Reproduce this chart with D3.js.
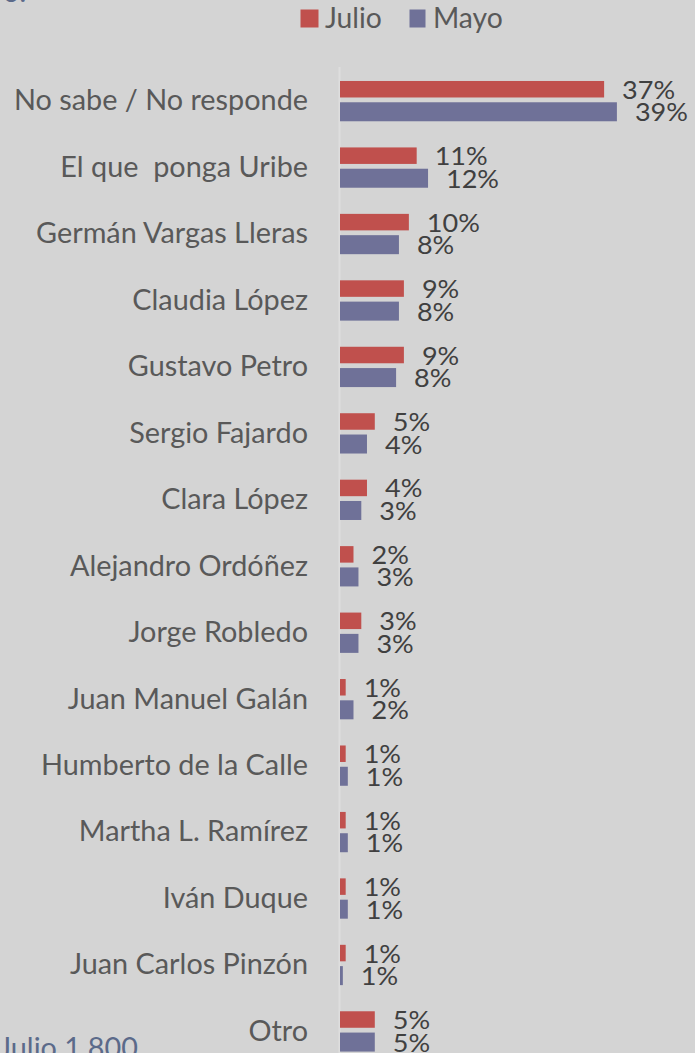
<!DOCTYPE html>
<html>
<head>
<meta charset="utf-8">
<script src="https://cdn.jsdelivr.net/npm/d3@7"></script>
<style>
  html, body { margin: 0; padding: 0; background: #d4d4d4; }
  svg { display: block; }
  text { font-family: Lato, "Open Sans", sans-serif; }
</style>
</head>
<body>
<svg id="chart" width="695" height="1053"></svg>
<script>
const categories = [
  "No sabe / No responde", "El que  ponga Uribe", "Germán Vargas Lleras", "Claudia López",
  "Gustavo Petro", "Sergio Fajardo", "Clara López", "Alejandro Ordóñez", "Jorge Robledo",
  "Juan Manuel Galán", "Humberto de la Calle", "Martha L. Ramírez", "Iván Duque",
  "Juan Carlos Pinzón", "Otro"
];
const series = ["Julio", "Mayo"];
const julio = [37.2, 10.8, 9.7, 9.0, 9.0, 4.9, 3.8, 1.9, 3.0, 0.8, 0.8, 0.8, 0.8, 0.8, 4.9];
const mayo  = [39.0, 12.4, 8.3, 8.3, 7.9, 3.8, 3.0, 2.6, 2.6, 1.9, 1.1, 1.1, 1.1, 0.4, 4.9];
const julioLabels = ["37%","11%","10%","9%","9%","5%","4%","2%","3%","1%","1%","1%","1%","1%","5%"];
const mayoLabels  = ["39%","12%","8%","8%","8%","4%","3%","3%","3%","2%","1%","1%","1%","1%","5%"];
const footnote = "Julio 1.800";

const colors = { Julio: "#c0504d", Mayo: "#6f7198" };

const svg = d3.select("#chart");
const W = 695, H = 1053;
svg.append("rect").attr("width", W).attr("height", H).attr("fill", "#d4d4d4");

const x = d3.scaleLinear().domain([0, 40]).range([340, 624]);
const y = d3.scaleBand().domain(categories).range([67.75, 67.75 + 66.45 * categories.length]).padding(0);
const c = d => y(d) + y.bandwidth() / 2;

// axis line (category axis)
const axis = d3.axisLeft(y).tickSize(0).tickFormat("");
const gAxis = svg.append("g").attr("transform", "translate(339.5,0)").call(axis);
gAxis.select(".domain").attr("stroke", "#dedede").attr("stroke-width", 2)
  .attr("d", `M0,67V${H}`);

// left category labels
const labelG = svg.append("g");
const labels = labelG.selectAll("text").data(categories).join("text")
  .attr("x", 308).attr("y", d => c(d) + 9.5)
  .attr("text-anchor", "end")
  .attr("font-size", 28.5)
  .attr("fill", "#595959")
  .text(d => d.replace("  ", "\u00a0 "));

// condense to Calibri-like widths
const ref = labels.filter(d => d === categories[0]).node();
const kLab = 294 / ref.getComputedTextLength();
labels.each(function() {
  const w = this.getComputedTextLength();
  d3.select(this).attr("textLength", w * kLab).attr("lengthAdjust", "spacingAndGlyphs");
});

// bars
const rows = categories.map((cat, i) => ({ cat, julio: julio[i], mayo: mayo[i], jl: julioLabels[i], ml: mayoLabels[i] }));
svg.append("g").selectAll("rect").data(rows).join("rect")
  .attr("x", x(0)).attr("y", d => c(d.cat) - 20)
  .attr("width", d => x(d.julio) - x(0)).attr("height", 16.5)
  .attr("fill", colors.Julio);
svg.append("g").selectAll("rect").data(rows).join("rect")
  .attr("x", x(0)).attr("y", d => c(d.cat) + 1.3)
  .attr("width", d => x(d.mayo) - x(0)).attr("height", 19)
  .attr("fill", colors.Mayo);

// value labels
const valJ = svg.append("g").selectAll("text").data(rows).join("text")
  .attr("x", d => x(d.julio) + 18).attr("y", d => c(d.cat) - 2.2)
  .attr("font-size", 25.5).attr("fill", "#404040").text(d => d.jl);
const valM = svg.append("g").selectAll("text").data(rows).join("text")
  .attr("x", d => x(d.mayo) + 18).attr("y", d => c(d.cat) + 20.3)
  .attr("font-size", 25.5).attr("fill", "#404040").text(d => d.ml);
const refV = valJ.node().getComputedTextLength();
const kVal = 53 / refV;
[valJ, valM].forEach(sel => sel.each(function() {
  const w = this.getComputedTextLength();
  d3.select(this).attr("textLength", w * kVal).attr("lengthAdjust", "spacingAndGlyphs");
}));

// legend
const legendItems = [
  { name: "Julio", sx: 300.5, sw: 18, tx: 325 },
  { name: "Mayo", sx: 409.5, sw: 16, tx: 433 }
];
const lg = svg.append("g");
lg.selectAll("rect").data(legendItems).join("rect")
  .attr("x", d => d.sx).attr("y", 9.5).attr("width", d => d.sw).attr("height", 18)
  .attr("fill", d => colors[d.name]);
lg.selectAll("text").data(legendItems).join("text")
  .attr("x", d => d.tx).attr("y", 28.3)
  .attr("font-size", 28).attr("fill", "#595959")
  .text(d => d.name)
  .each(function() {
    const w = this.getComputedTextLength();
    d3.select(this).attr("textLength", w * kLab).attr("lengthAdjust", "spacingAndGlyphs");
  });

// footnote (partially cut off at bottom)
const fn = svg.append("text").attr("x", -1).attr("y", 1058)
  .attr("font-size", 28.5).attr("fill", "#5b6a8a").text(footnote);
fn.attr("textLength", fn.node().getComputedTextLength() * kLab).attr("lengthAdjust", "spacingAndGlyphs");

// remnant of title cut off at top
svg.append("text").attr("x", 3).attr("y", 2).attr("font-size", 28.5)
  .attr("fill", "#5b6a8a").text("o:");
</script>
</body>
</html>
